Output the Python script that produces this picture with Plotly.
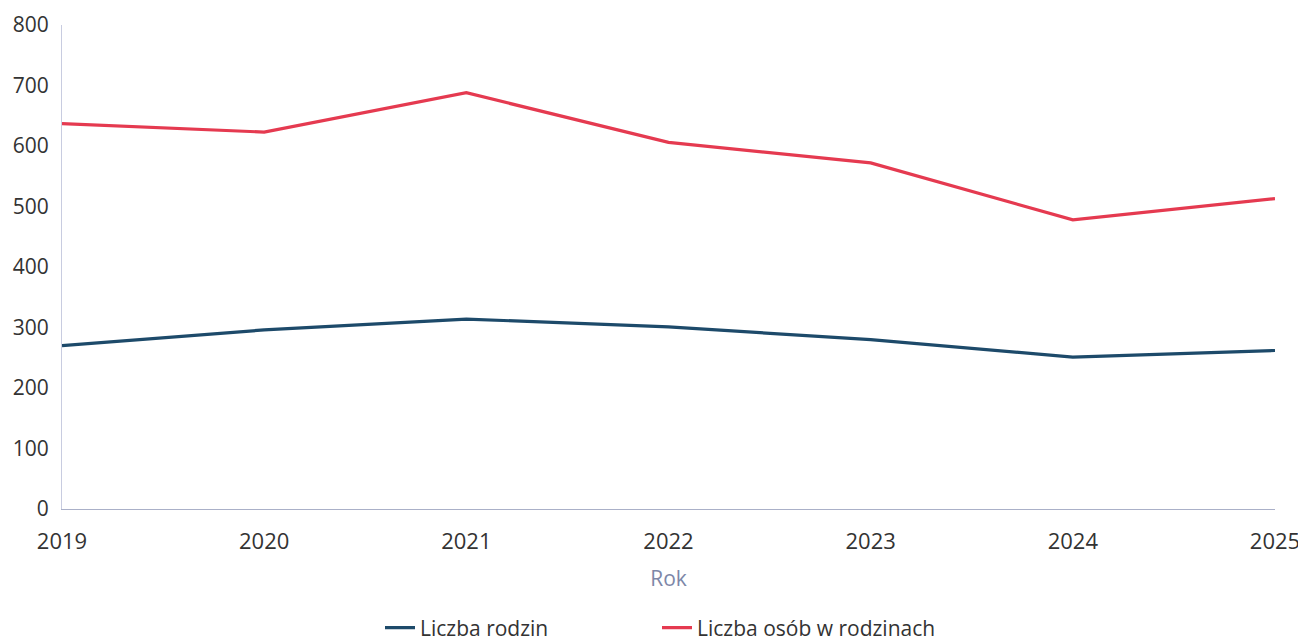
import plotly.graph_objects as go

years = [2019, 2020, 2021, 2022, 2023, 2024, 2025]
liczba_rodzin = [270, 296, 314, 301, 280, 251, 262]
liczba_osob = [637, 623, 688, 606, 572, 478, 513]
y_ticks = [0, 100, 200, 300, 400, 500, 600, 700, 800]

fig = go.Figure()
fig.add_trace(go.Scatter(x=years, y=liczba_rodzin, mode="lines", name="Liczba rodzin",
                         line=dict(color="#1d4a6a", width=3.2)))
fig.add_trace(go.Scatter(x=years, y=liczba_osob, mode="lines", name="Liczba osób w rodzinach",
                         line=dict(color="#e53a50", width=3.2)))

fig.update_layout(
    width=1298, height=633,
    margin=dict(l=54, r=31, t=17, b=132, autoexpand=False),
    paper_bgcolor="white", plot_bgcolor="white",
    font=dict(family="Open Sans", size=21, color="#333333"),
    showlegend=True,
    legend=dict(orientation="h", x=0.5, xanchor="center", xref="container",
                y=-0.246, yanchor="middle",
                font=dict(size=21, color="#333333"), entrywidth=232, itemwidth=30),
    xaxis=dict(range=[2019, 2025], tickvals=years, ticktext=[str(y) for y in years],
               showgrid=False, zeroline=False, showline=True, linecolor="#aab0c8", linewidth=1,
               ticks="", ticklabelstandoff=13, automargin=False,
               tickfont=dict(size=22),
               title=dict(text="Rok", font=dict(size=21, color="#7d87a8"), standoff=16)),
    yaxis=dict(range=[0, 800], tickvals=y_ticks, showgrid=False, zeroline=False,
               showline=True, linecolor="#c8cce0", linewidth=1,
               ticks="", ticklabelstandoff=8, automargin=False),
)
fig.write_html("out.html")
